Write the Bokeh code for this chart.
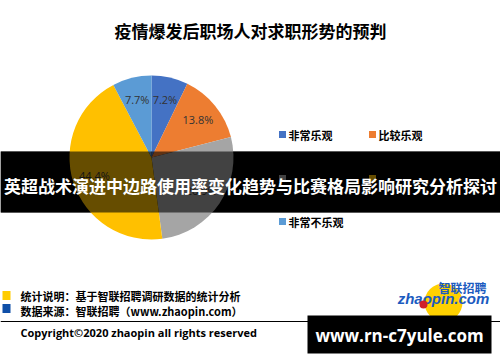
import numpy as np
from bokeh.plotting import figure
from bokeh.models import Range1d
from bokeh.core.properties import value
from bokeh.embed import file_html
from bokeh.resources import INLINE

# ---- data ----
title = "疫情爆发后职场人对求职形势的预判"
categories = ["非常乐观", "比较乐观", "一般", "比较不乐观", "非常不乐观"]
shares = [7.2, 13.8, 26.9, 44.4, 7.7]
colors = ["#4472C4", "#ED7D31", "#A5A5A5", "#FFC000", "#5B9BD5"]
banner = "英超战术演进中边路使用率变化趋势与比赛格局影响研究分析探讨"
note1 = "统计说明：基于智联招聘调研数据的统计分析"
note2 = "数据来源：智联招聘（www.zhaopin.com）"
copyright_txt = "Copyright©2020 zhaopin all rights reserved"
site = "www.rn-c7yule.com"

W, H = 500, 362
CJK = value("Noto Sans CJK SC")
def ty(y):
    return H - y

p = figure(width=W, height=H, x_range=Range1d(0, W), y_range=Range1d(0, H),
           output_backend="svg", toolbar_location=None,
           x_axis_location=None, y_axis_location=None, min_border=0)
p.grid.visible = False
p.outline_line_color = None
p.background_fill_color = "white"
p.border_fill_color = "white"

# title
p.text(x=[250], y=[ty(30)], text=[title], text_font=CJK, text_font_size="17px",
       text_font_style="bold", text_color="black", text_align="center", text_baseline="middle")

# banner base (black under pie)
band_top, band_bot = 151, 212
p.quad(left=[0], right=[W], top=[ty(band_top)], bottom=[ty(band_bot)], fill_color="black", line_color=None)

# pie
cx, cy, R = 151, 157, 82
vals = np.array(shares, dtype=float)
frac = vals / vals.sum()
cum = np.concatenate([[0], np.cumsum(frac)])
starts = np.pi / 2 - 2 * np.pi * cum[:-1]
ends = np.pi / 2 - 2 * np.pi * cum[1:]
p.wedge(x=[cx] * len(vals), y=[ty(cy)] * len(vals), radius=R, start_angle=list(starts),
        end_angle=list(ends), direction="clock", fill_color=colors, line_color=None)
mids = (starts + ends) / 2
lr = 0.73 * R
lx = cx + lr * np.cos(mids)
ly = ty(cy) + lr * np.sin(mids)
p.text(x=list(lx), y=list(ly), text=[f"{v}%" for v in shares], text_font=value("Open Sans"),
       text_font_size="11px", text_color="#333333", text_align="center", text_baseline="middle")

# legend
col_x = [282, 372]
row_y = [134, 178, 221]
lxs, lys = [], []
for i in range(len(categories)):
    lxs.append(col_x[i % 2])
    lys.append(ty(row_y[i // 2]))
p.rect(x=lxs, y=lys, width=7, height=7, fill_color=colors, line_color=None)
p.text(x=[x + 6 for x in lxs], y=lys, text=categories, text_font=CJK, text_font_size="11px",
       text_font_style="bold", text_color="black", text_align="left", text_baseline="middle")

# banner overlay
p.quad(left=[0], right=[W], top=[ty(band_top)], bottom=[ty(band_bot)], fill_color="black",
       fill_alpha=0.6, line_color=None)
p.text(x=[250], y=[ty(185)], text=[banner], text_font=CJK, text_font_size="17px",
       text_font_style="bold", text_color="white", text_align="center", text_baseline="middle")

# footer notes
p.rect(x=[6, 6], y=[ty(295), ty(308)], width=8, height=9, fill_color=["#FFCC00", "#0F4FA8"], line_color=None)
p.text(x=[20, 20], y=[ty(295), ty(310)], text=[note1, note2], text_font=CJK, text_font_size="11px",
       text_font_style="bold", text_color="black", text_align="left", text_baseline="middle")

# logo
p.circle(x=[443], y=[ty(302)], radius=19, fill_color="#FFD100", line_color=None)
p.text(x=[462], y=[ty(287)], text=["智联招聘"], text_font=CJK, text_font_size="12px",
       text_font_style="bold", text_color="#1C5BC0", text_align="center", text_baseline="middle")
p.text(x=[443], y=[ty(298)], text=["zhaopin.com"], text_font=value("Liberation Sans"), text_font_size="15px",
       text_font_style="bold italic", text_color="#1C5BC0", text_align="center", text_baseline="middle")
p.circle(x=[423], y=[ty(304)], radius=4, fill_color="#D0202A", line_color=None)

# rule line
p.segment(x0=[0], y0=[ty(321)], x1=[W], y1=[ty(321)], line_color="black", line_width=1)

p.text(x=[20], y=[ty(332)], text=[copyright_txt], text_font=value("Open Sans"), text_font_size="11px",
       text_font_style="bold", text_color="black", text_align="left", text_baseline="middle")

# site box
p.quad(left=[307], right=[491], top=[ty(315)], bottom=[ty(353)], fill_color="black", line_color=None)
p.text(x=[399], y=[ty(335)], text=[site], text_font=value("Open Sans"), text_font_size="17px",
       text_font_style="bold", text_color="white", text_align="center", text_baseline="middle")

open("out.html", "w").write(file_html(p, INLINE))
